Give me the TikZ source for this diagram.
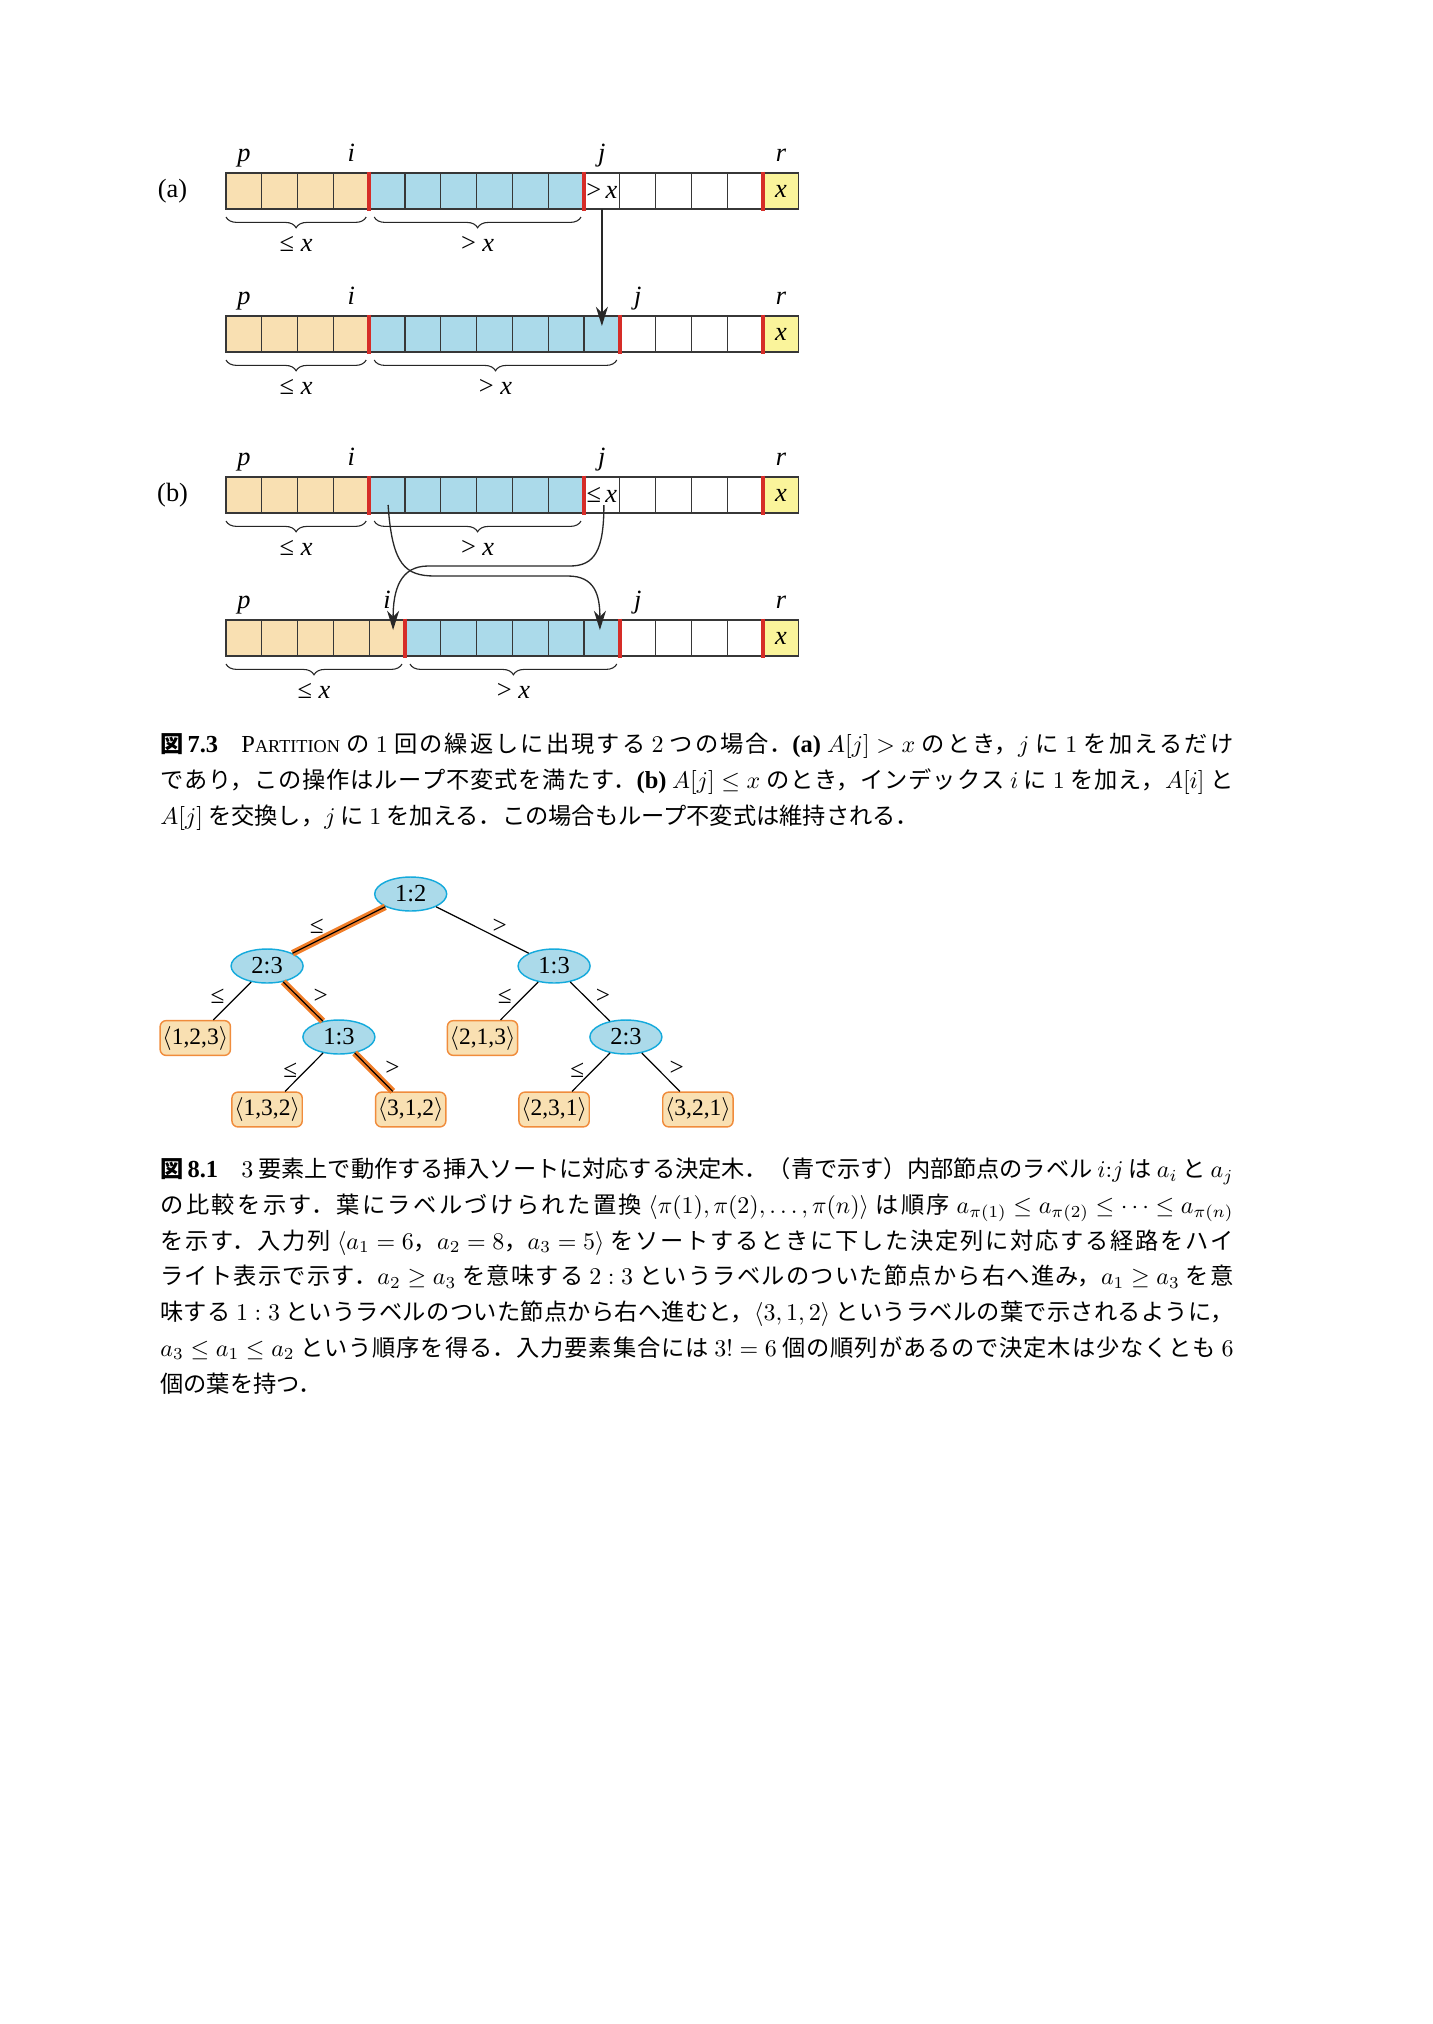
\documentclass[tikz,border=0pt]{standalone}
\usepackage[no-math]{fontspec}
\newfontfamily\tms{Liberation Serif}
\newfontfamily\jp[Scale=0.95]{Noto Sans CJK JP}
\usetikzlibrary{shapes.geometric,decorations.pathreplacing,arrows.meta,calc}
\definecolor{tanc}{RGB}{249,224,178}
\definecolor{bluec}{RGB}{171,218,234}
\definecolor{yelc}{RGB}{250,244,155}
\definecolor{redc}{RGB}{214,45,40}
\definecolor{orgc}{RGB}{240,125,40}
\definecolor{leafb}{RGB}{240,140,60}
\definecolor{ellb}{RGB}{20,170,220}
\definecolor{gridc}{RGB}{55,55,55}
\definecolor{arrc}{RGB}{40,40,40}
\XeTeXlinebreaklocale "ja"
\XeTeXlinebreakskip=0pt plus 2pt minus 0.3pt
\newcommand\jline[1]{\parbox[b]{157.25mm}{\thickmuskip=5mu\medmuskip=4mu\parfillskip=0pt\noindent #1}}
\tikzset{
 cell/.style={draw=gridc, line width=0.55pt, minimum width=5.2465mm, minimum height=5.276mm, inner sep=0pt, outer sep=0pt},
 redbar/.style={draw=redc, line width=1.6pt},
 brc/.style={decorate, decoration={brace, mirror, amplitude=4.5pt}, line width=0.45pt, draw=black!85},
 lab/.style={font=\tms\fontsize{11}{13}\selectfont\itshape, inner sep=0pt, anchor=base},
 blab/.style={font=\tms\fontsize{11}{13}\selectfont, inner sep=0pt, anchor=base},
 arr/.style={draw=arrc, line width=0.55pt, -{Stealth[length=8pt,width=5pt,inset=2.5pt]}},
 inode/.style={ellipse, draw=ellb, fill=bluec, line width=0.6pt, minimum width=10.55mm, minimum height=4.98mm, inner sep=0pt, font=\tms\fontsize{10.2}{11}\selectfont},
 leaf/.style={rectangle, rounded corners=2.5pt, draw=leafb, fill=tanc, line width=0.6pt, minimum width=10.3mm, minimum height=5.1mm, inner sep=0pt, font=\tms\fontsize{9.8}{11}\selectfont},
 edg/.style={draw=black, line width=0.5pt},
 hl/.style={draw=orgc, line width=2.8pt},
 elab/.style={font=\tms\fontsize{10.5}{12}\selectfont, inner sep=0pt},
 capline/.style={anchor=base west, inner sep=0pt, font=\fontsize{10.2}{12}\selectfont\jp},
}
\newcommand\ArrRow[4]{%
  \foreach \kk in {0,...,15}{%
    \ifnum\kk<#3\relax \def\cellcol{tanc}\else\ifnum\kk<#4\relax \def\cellcol{bluec}\else\ifnum\kk=15\relax \def\cellcol{yelc}\else\def\cellcol{white}\fi\fi\fi
    \node[cell, fill=\cellcol] (#1-\kk) at ({226+(\kk+0.5)*35.8}, #2) {};
  }
  \foreach \bb in {#3,#4,15}{%
    \draw[redbar] ($(#1-\bb.north west)+(0,-1.5)$) -- ($(#1-\bb.south west)+(0,1.5)$);
  }
}
\newcommand\TopLabs[5]{%
  \node[lab] (#1p) at ($(#1-0)+(0,-30)$) {p};
  \node[lab] (#1i) at ($(#1-#2)+(0,-30)$) {i};
  \node[lab] (#1j) at ($(#1-#3)+(0,-30)$) {j};
  \node[lab] (#1r) at ($(#1-15)+(0,-30)$) {r};
  \node[blab, anchor=center] (#1x) at (#1-15) {\itshape x};
  \draw[brc] ($(#1-0.south west)+(0,8)$) -- ($(#1-#4.south east)+(-3,8)$);
  \draw[brc] ($(#1-#4.south east)+(5,8)$) -- ($(#1-#5.south east)+(-3,8)$);
  \node[blab] (#1lo) at ($(#1-0.south west)!0.5!(#1-#4.south east)+(-1.5,42)$) {≤ \textit{x}};
  \node[blab] (#1hi) at ($(#1-#4.south east)!0.5!(#1-#5.south east)+(1,42)$) {> \textit{x}};
}
\begin{document}
\begin{tikzpicture}[x=0.14655mm, y=-0.14655mm]
\fill[white] (0,0) rectangle (1433,2024);
\path[use as bounding box] (0,0) rectangle (1433,2024);

% ---------- (a) ----------
\node[blab, anchor=center] (lbla) at (172.6,191) {(a)};
\ArrRow{a1}{191}{4}{10}
\TopLabs{a1}{3}{10}{3}{9}
\node[blab, anchor=center] (a1t) at (a1-10) {>\,\textit{x}};
\ArrRow{a2}{334}{4}{11}
\TopLabs{a2}{3}{11}{3}{10}
\draw[arr] (a1-10.south) -- ($(a2-10.north)+(0,10)$);

% ---------- (b) ----------
\node[blab, anchor=center] (lblb) at (172.6,495) {(b)};
\ArrRow{b1}{495}{4}{10}
\TopLabs{b1}{3}{10}{3}{9}
\node[blab, anchor=center] (b1t) at (b1-10) {≤\,\textit{x}};
\ArrRow{b2}{638}{5}{11}
\TopLabs{b2}{4}{11}{4}{10}
\draw[arr] ($(b1-4)+(1,10)$) .. controls ($(b1-4)+(5,70)$) and ($(b1-4)+(18,81)$) .. ($(b1-4)+(48,81)$)
   -- ($(b2-10)+(-34,-62)$) .. controls ($(b2-10)+(-7,-62)$) and ($(b2-10)+(-2,-43)$) .. ($(b2-10)+(-2,-8)$);
\draw[arr] ($(b1-10)+(2,10)$) .. controls ($(b1-10)+(2,55)$) and ($(b1-10)+(-7,71)$) .. ($(b1-10)+(-32,71)$)
   -- ($(b2-4)+(41,-72)$) .. controls ($(b2-4)+(13,-72)$) and ($(b2-4)+(6,-48)$) .. ($(b2-4)+(6,-8)$);

% ---------- caption 7.3 ----------
\node[capline] (c73a) at (160,752.5) {\jline{{\bfseries 図}\,{\tms\bfseries 7.3}\hspace{1em}{\tms P\fontsize{7.6}{9}\selectfont ARTITION} の $1$ 回の繰返しに出現する $2$ つの場合．{\tms\bfseries (a)} $A[j]>x$ のとき，$j$ に $1$ を加えるだけ}};
\node[capline] (c73b) at (160,788.6) {\jline{であり，この操作はループ不変式を満たす．{\tms\bfseries (b)} $A[j]\le x$ のとき，インデックス $i$ に $1$ を加え，$A[i]$ と}};
\node[capline] (c73c) at (160,824.7) {$A[j]$ を交換し，$j$ に $1$ を加える．この場合もループ不変式は維持される．};

% ---------- tree ----------
\node[inode] (n12) at (410.7,894) {1:2};
\node[inode] (n23a) at (267.1,966) {2:3};
\node[inode] (n13b) at (554.1,966) {1:3};
\node[inode] (n13a) at (338.9,1037) {1:3};
\node[inode] (n23b) at (625.9,1037) {2:3};
\node[leaf] (l123) at (195.3,1038) {$\langle$1,2,3$\rangle$};
\node[leaf] (l213) at (482.5,1038) {$\langle$2,1,3$\rangle$};
\node[leaf] (l132) at (267.1,1109.5) {$\langle$1,3,2$\rangle$};
\node[leaf] (l312) at (410.7,1109.5) {$\langle$3,1,2$\rangle$};
\node[leaf] (l231) at (554.1,1109.5) {$\langle$2,3,1$\rangle$};
\node[leaf] (l321) at (697.9,1109.5) {$\langle$3,2,1$\rangle$};
\draw[hl] (n12) -- (n23a);
\draw[hl] (n23a) -- (n13a);
\draw[hl] (n13a) -- (l312);
\draw[edg] (n12) -- (n23a);
\draw[edg] (n12) -- (n13b);
\draw[edg] (n23a) -- (l123);
\draw[edg] (n23a) -- (n13a);
\draw[edg] (n13a) -- (l132);
\draw[edg] (n13a) -- (l312);
\draw[edg] (n13b) -- (l213);
\draw[edg] (n13b) -- (n23b);
\draw[edg] (n23b) -- (l231);
\draw[edg] (n23b) -- (l321);
\node[elab] (e1) at (316.9,926.7) {≤};
\node[elab] (e2) at (499.7,926.7) {>};
\node[elab] (e3) at (217.5,996.7) {≤};
\node[elab] (e4) at (320.8,996.7) {>};
\node[elab] (e5) at (504.9,996.7) {≤};
\node[elab] (e6) at (603,996.7) {>};
\node[elab] (e7) at (290.2,1070) {≤};
\node[elab] (e8) at (392.4,1068) {>};
\node[elab] (e9) at (577.2,1070) {≤};
\node[elab] (e10) at (676.6,1068) {>};

% ---------- caption 8.1 ----------
\node[capline] (c81a) at (160,1177.8) {\jline{{\bfseries 図}\,{\tms\bfseries 8.1}\hspace{1em}$3$ 要素上で動作する挿入ソートに対応する決定木．（青で示す）内部節点のラベル $i{:}j$ は $a_i$ と $a_j$}};
\node[capline] (c81b) at (160,1213.5) {\jline{の比較を示す．葉にラベルづけられた置換 $\langle\pi(1),\pi(2),\ldots,\pi(n)\rangle$ は順序 $a_{\pi(1)}\le a_{\pi(2)}\le\cdots\le a_{\pi(n)}$}};
\node[capline] (c81c) at (160,1249.2) {\jline{を示す．入力列 $\langle a_1=6$，$a_2=8$，$a_3=5\rangle$ をソートするときに下した決定列に対応する経路をハイ}};
\node[capline] (c81d) at (160,1284.9) {\jline{ライト表示で示す．$a_2\ge a_3$ を意味する $2:3$ というラベルのついた節点から右へ進み，$a_1\ge a_3$ を意}};
\node[capline] (c81e) at (160,1320.6) {\jline{味する $1:3$ というラベルのついた節点から右へ進むと，$\langle 3,1,2\rangle$ というラベルの葉で示されるように，}};
\node[capline] (c81f) at (160,1356.3) {\jline{$a_3\le a_1\le a_2$ という順序を得る．入力要素集合には $3!=6$ 個の順列があるので決定木は少なくとも $6$}};
\node[capline] (c81g) at (160,1392) {個の葉を持つ．};
\end{tikzpicture}
\end{document}
